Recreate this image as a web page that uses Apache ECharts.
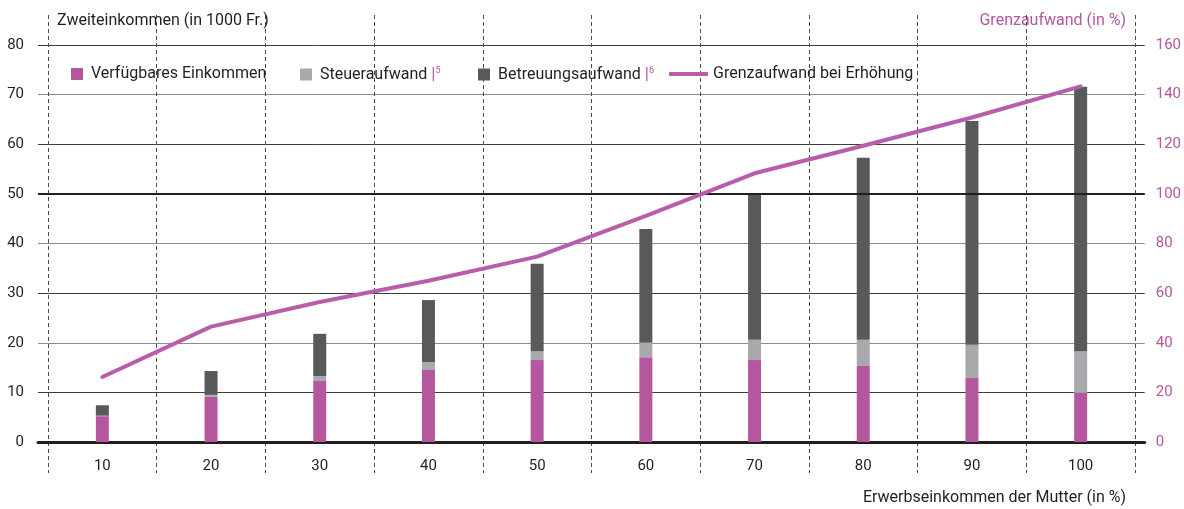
<!DOCTYPE html>
<html><head><meta charset="utf-8">
<script src="https://cdn.jsdelivr.net/npm/echarts@6/dist/echarts.min.js"></script>
<style>html,body{margin:0;padding:0;background:#fff}#c{width:1184px;height:509px}</style>
</head><body><div id="c"></div>
<script>
const categories = ['10','20','30','40','50','60','70','80','90','100'];
const verfuegbar = [5.2, 9.1, 12.3, 14.5, 16.5, 17.1, 16.5, 15.3, 12.9, 9.9];
const steuer = [0.1, 0.4, 1.0, 1.6, 1.8, 2.9, 4.1, 5.3, 6.7, 8.4];
const betreuung = [2.1, 4.8, 8.5, 12.5, 17.6, 22.9, 29.6, 36.7, 45.1, 53.3];
const grenz = [26.2, 46.5, 56.4, 65.0, 74.7, 91.1, 108.3, 119.4, 130.8, 143.3];
const leftTicks = [0, 80, 10];
const rightTicks = [0, 160, 20];

const FONT = 'Roboto';
const TXT = '#231f20';
const PINK = '#b5579f';
const LINEPINK = '#b95dab';
const chart = echarts.init(document.getElementById('c'));
const rich = {p:{color:PINK, fontSize:17, fontFamily:FONT}, s:{color:PINK, fontSize:9, fontFamily:FONT, padding:[0,0,8,0]}};
function lg(name, left, opts){
  return Object.assign({
    data:[name], left:left, top:66, padding:0, icon:'rect', itemWidth:12, itemHeight:12,
    selectedMode:false,
    textStyle:{color:TXT, fontSize:16, fontFamily:FONT, padding:[0,0,0,3], rich:rich}
  }, opts||{});
}
chart.setOption({
  animation:false,
  textStyle:{fontFamily:FONT},
  legend:[
    lg('Verfügbares Einkommen', 71),
    lg('Steueraufwand', 300, {formatter:n=>n+' {p||}{s|5}'}),
    lg('Betreuungsaufwand', 478, {formatter:n=>n+' {p||}{s|6}'}),
    lg('Grenzaufwand bei Erhöhung', 669, {icon:'roundRect', itemWidth:39, itemHeight:4, textStyle:{color:TXT, fontSize:16, fontFamily:FONT}})
  ],
  graphic:[
    {type:'text', left:57, top:13, style:{text:'Zweiteinkommen (in 1000 Fr.)', fill:TXT, font:'16px '+FONT}},
    {type:'text', right:58, top:13, style:{text:'Grenzaufwand (in %)', fill:PINK, font:'16px '+FONT}},
    {type:'text', right:58, top:490, style:{text:'Erwerbseinkommen der Mutter (in %)', fill:TXT, font:'16px '+FONT}}
  ],
  grid:[
    {left:48, right:49, top:45, bottom:67},
    {left:38, right:37, top:45, bottom:67},
    {left:48, right:49, top:15, bottom:36}
  ],
  xAxis:[
    {type:'category', gridIndex:0, data:categories, boundaryGap:true,
     axisLine:{show:false}, axisTick:{show:false}, splitLine:{show:false},
     axisLabel:{color:TXT, fontSize:15, fontFamily:FONT, margin:17}},
    {type:'value', gridIndex:1, min:0, max:1, show:true,
     axisLine:{show:true, onZero:false, lineStyle:{color:TXT, width:3}}, axisTick:{show:false}, axisLabel:{show:false}, splitLine:{show:false}},
    {type:'category', gridIndex:2, data:categories, boundaryGap:true,
     axisLine:{show:false}, axisTick:{show:false}, axisLabel:{show:false},
     splitLine:{show:true, showMinLine:true, showMaxLine:true, lineStyle:{color:'#4a4a4a', width:1, type:[4,3]}}}
  ],
  yAxis:[
    {type:'value', gridIndex:0, min:leftTicks[0], max:leftTicks[1], interval:leftTicks[2], show:false},
    {type:'value', gridIndex:0, min:rightTicks[0], max:rightTicks[1], interval:rightTicks[2], show:false},
    {type:'value', gridIndex:1, min:leftTicks[0], max:leftTicks[1], interval:leftTicks[2], position:'left',
     axisLine:{show:false}, axisTick:{show:false},
     axisLabel:{color:TXT, fontSize:15, fontFamily:FONT, margin:14},
     splitLine:{show:true, lineStyle:{width:1, color:['#231f20','#3d3d3d','#8c8c8c','#3d3d3d','#8c8c8c','#231f20','#3d3d3d','#8c8c8c','#3d3d3d']}}},
    {type:'value', gridIndex:1, min:rightTicks[0], max:rightTicks[1], interval:rightTicks[2], position:'right',
     axisLine:{show:false}, axisTick:{show:false}, splitLine:{show:false},
     axisLabel:{color:PINK, fontSize:15, fontFamily:FONT, margin:11}},
    {type:'value', gridIndex:2, min:0, max:1, show:false}
  ],
  series:[
    {type:'line', xAxisIndex:1, yAxisIndex:2, data:[], silent:true,
     markLine:{silent:true, symbol:'none', label:{show:false}, lineStyle:{color:TXT, width:2, type:'solid'}, data:[{yAxis:50}]}},
    {name:'Verfügbares Einkommen', type:'bar', stack:'a', xAxisIndex:0, yAxisIndex:0, barWidth:13, data:verfuegbar, itemStyle:{color:PINK}, z:3},
    {name:'Steueraufwand', type:'bar', stack:'a', xAxisIndex:0, yAxisIndex:0, barWidth:13, data:steuer, itemStyle:{color:'#a7a9ac'}, z:3},
    {name:'Betreuungsaufwand', type:'bar', stack:'a', xAxisIndex:0, yAxisIndex:0, barWidth:13, data:betreuung, itemStyle:{color:'#58595b'}, z:3},
    {name:'Grenzaufwand bei Erhöhung', type:'line', xAxisIndex:0, yAxisIndex:1, data:grenz, symbol:'none',
     lineStyle:{color:LINEPINK, width:4, cap:'round', join:'round'}, itemStyle:{color:LINEPINK}, z:5}
  ]
});
</script></body></html>
